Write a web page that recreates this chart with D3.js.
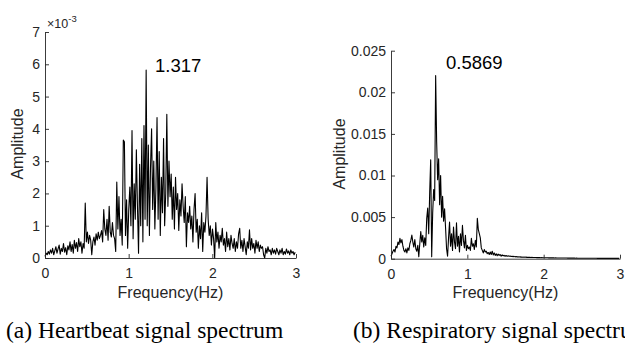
<!DOCTYPE html>
<html><head><meta charset="utf-8">
<script src="https://cdn.jsdelivr.net/npm/d3@7"></script>
<style>
html,body{margin:0;padding:0;background:#fff;overflow:hidden}
svg{display:block}
</style></head><body>
<svg id="c" width="625" height="343"></svg>
<script>
// FFT bin spacing (Hz)
const binHz = 0.013;
// Heartbeat spectrum amplitude (x 10^-3), one value per bin from 0 Hz
const heartAmp = [
0.05,0.15,0.1,0.2,0.12,0.25,0.15,0.3,0.1,0.22,
0.35,0.15,0.28,0.4,0.12,0.3,0.2,0.45,0.18,0.32,
0.1,0.38,0.25,0.5,0.2,0.42,0.15,0.55,0.3,0.48,
0.2,0.6,0.35,0.5,0.15,0.45,0.3,1.7,0.5,0.8,
0.45,0.7,0.55,0.1,0.5,0.65,0.4,0.75,0.55,0.8,
0.6,0.7,0.85,0.5,1.5,0.9,0.7,1.2,0.55,1.6,
0.8,0.65,1.1,0.7,0.6,0.2,2.35,0.9,1.9,0.7,
1.2,0.4,3.65,3.6,0.7,1.8,0.3,1.5,2.2,1.0,
3.95,0.6,2.3,1.2,3.35,1.6,0.15,2.9,1.0,3.7,
0.5,4.1,1.2,5.82,1.0,3.5,0.7,2.8,4.0,1.5,
3.0,0.9,2.2,4.35,1.2,3.3,0.7,2.5,1.4,3.7,
1.0,2.0,4.45,1.6,3.0,1.9,2.6,1.2,2.2,0.9,
2.5,1.5,2.0,0.85,1.8,1.3,2.3,1.6,1.1,1.9,
0.35,1.4,1.1,1.6,0.9,1.3,0.5,1.5,2.0,0.8,
1.2,0.3,1.0,0.6,1.4,0.2,1.1,0.8,1.3,2.5,
1.2,0.7,1.0,0.4,0.9,0.6,0.0,1.1,0.5,0.8,
0.3,0.7,0.5,0.92,0.4,0.6,0.2,0.8,0.35,0.6,
0.25,0.7,0.45,0.3,0.6,0.2,0.5,0.3,0.75,0.92,
0.3,0.55,0.2,0.6,0.35,0.1,0.5,0.3,0.87,0.25,
0.6,0.3,0.45,0.15,0.55,0.3,0.5,0.2,0.4,0.3,
0.35,0.1,0.0,0.3,0.15,0.35,0.2,0.25,0.1,0.3,
0.15,0.25,0.12,0.3,0.2,0.1,0.25,0.15,0.3,0.1,
0.2,0.12,0.28,0.15,0.22,0.1,0.25,0.15,0.2,0.1,0.18
];
// Respiratory spectrum amplitude (x 10^-3)
const respAmp = [
0.3,0.6,0.9,1.1,0.8,1.5,1.3,2.0,1.7,2.45,
1.9,2.3,1.5,1.0,0.8,1.2,0.7,1.3,1.0,1.8,
2.2,2.85,2.0,1.4,2.3,1.2,0.9,1.6,0.25,1.8,
3.25,2.0,2.8,1.4,2.5,1.6,4.85,6.1,3.0,8.0,
11.9,0.25,5.5,8.3,7.0,22.0,14.1,9.5,12.0,6.5,
10.0,5.0,7.5,4.5,6.0,3.7,1.2,0.3,2.5,4.4,
1.5,3.0,1.0,3.8,2.0,1.2,4.3,1.5,2.7,0.8,
3.0,1.6,4.0,2.2,1.3,2.8,1.0,1.6,1.2,1.4,
1.0,2.45,1.5,1.8,1.1,2.2,1.4,4.85,3.5,3.0,
2.5,1.3,1.0,0.7,1.1,0.8,0.9,0.6,0.75,0.5,
0.8,0.5,0.9,0.45,0.7,0.4,0.6,0.35,0.55,0.4,
0.5,0.3,0.45,0.35,0.4,0.3,0.38,0.28,0.35,0.3,
0.32,0.26,0.3,0.25,0.28,0.22,0.26,0.22,0.24,0.2,
0.22,0.19,0.21,0.18,0.2,0.17,0.19,0.16,0.18,0.16,
0.17,0.15,0.16,0.14,0.15,0.14,0.15,0.13,0.14,0.13,
0.13,0.12,0.13,0.12,0.12,0.11,0.12,0.11,0.11,0.1,
0.11,0.1,0.1,0.1,0.1,0.09,0.1,0.09,0.09,0.09,
0.09,0.08,0.09,0.08,0.08,0.08,0.08,0.08,0.07,0.08,
0.07,0.07,0.07,0.07,0.07,0.07,0.06,0.07,0.06,0.06,
0.06,0.06,0.06,0.06,0.06,0.055,0.06,0.055,0.055,0.055,
0.05,0.055,0.05,0.05,0.05,0.05,0.05,0.05,0.045,0.05,
0.045,0.045,0.045,0.045,0.045,0.04,0.045,0.04,0.04,0.04,
0.04,0.04,0.04,0.04,0.04,0.04,0.035,0.04,0.035,0.035,0.035
];
const xTicks = [0,1,2,3];
const heartYTicks = [0,1,2,3,4,5,6,7];
const respYTicks = [0,0.005,0.01,0.015,0.02,0.025];
const peakLabels = ["1.317","0.5869"];
const xLabel = "Frequency(Hz)";
const yLabel = "Amplitude";
const captions = ["(a) Heartbeat signal spectrum","(b) Respiratory signal spectrum"];

const svg = d3.select('#c');
const SANS = '"Liberation Sans", Arial, sans-serif';
const SERIF = '"Liberation Serif", "Times New Roman", serif';
const AX = '#262626';

const panels = [
  {data: heartAmp, scale: 1, yMax: 7, yTicks: heartYTicks, fmt: d3.format('d'),
   x0: 45, x1: 296, y0: 258, y1: 32, peak: peakLabels[0], peakX: 155, peakY: 71.5,
   yLabX: 23, yLabY: 144, cap: captions[0], capX: 6},
  {data: respAmp, scale: 1e-3, yMax: 0.025, yTicks: respYTicks, fmt: d => d === 0 ? '0' : d3.format('~g')(d),
   x0: 391, x1: 620, y0: 258.7, y1: 50.7, peak: peakLabels[1], peakX: 446, peakY: 69,
   yLabX: 345, yLabY: 154, cap: captions[1], capX: 353}
];

panels.forEach((p, pi) => {
  const g = svg.append('g');
  const x = d3.scaleLinear().domain([0, 3]).range([p.x0, p.x1]);
  const y = d3.scaleLinear().domain([0, p.yMax]).range([p.y0, p.y1]);
  const line = d3.line().x((d, i) => x(i * binHz)).y(d => y(d * p.scale));
  g.append('path').datum(p.data).attr('d', line)
    .attr('fill', 'none').attr('stroke', '#000').attr('stroke-width', 1.1)
    .attr('stroke-linejoin', 'round');

  const xa = g.append('g').attr('transform', `translate(0,${p.y0})`)
    .call(d3.axisBottom(x).tickValues(xTicks).tickSizeInner(-4).tickSizeOuter(0)
      .tickPadding(10).tickFormat(d3.format('d')));
  const ya = g.append('g').attr('transform', `translate(${p.x0},0)`)
    .call(d3.axisLeft(y).tickValues(p.yTicks).tickSizeInner(-4).tickSizeOuter(0)
      .tickPadding(5).tickFormat(p.fmt));
  [xa, ya].forEach(a => {
    a.select('.domain').attr('stroke', AX).attr('stroke-width', 0.9);
    a.selectAll('.tick line').attr('stroke', AX).attr('stroke-width', 0.9);
    a.selectAll('.tick text').attr('fill', AX).style('font-family', SANS).style('font-size', '14px');
  });

  g.append('text').attr('x', (p.x0 + p.x1) / 2).attr('y', 298)
    .attr('text-anchor', 'middle').attr('fill', AX)
    .style('font-family', SANS).style('font-size', '16px').text(xLabel);
  g.append('text').attr('transform', `translate(${p.yLabX},${p.yLabY}) rotate(-90)`)
    .attr('text-anchor', 'middle').attr('fill', AX)
    .style('font-family', SANS).style('font-size', '16px').text(yLabel);

  g.append('text').attr('x', p.peakX).attr('y', p.peakY).attr('fill', '#000')
    .style('font-family', SANS).style('font-size', '18.5px').text(p.peak);

  g.append('text').attr('x', p.capX).attr('y', 338).attr('fill', '#000')
    .style('font-family', SERIF).style('font-size', '23.5px').text(p.cap);
});

// exponent marker for left panel
const ex = svg.append('text').attr('x', 47).attr('y', 28).attr('fill', AX)
  .style('font-family', SANS).style('font-size', '12.5px');
ex.append('tspan').text('\u00d710');
ex.append('tspan').attr('dy', -6).style('font-size', '9.5px').text('-3');
</script>
</body></html>
